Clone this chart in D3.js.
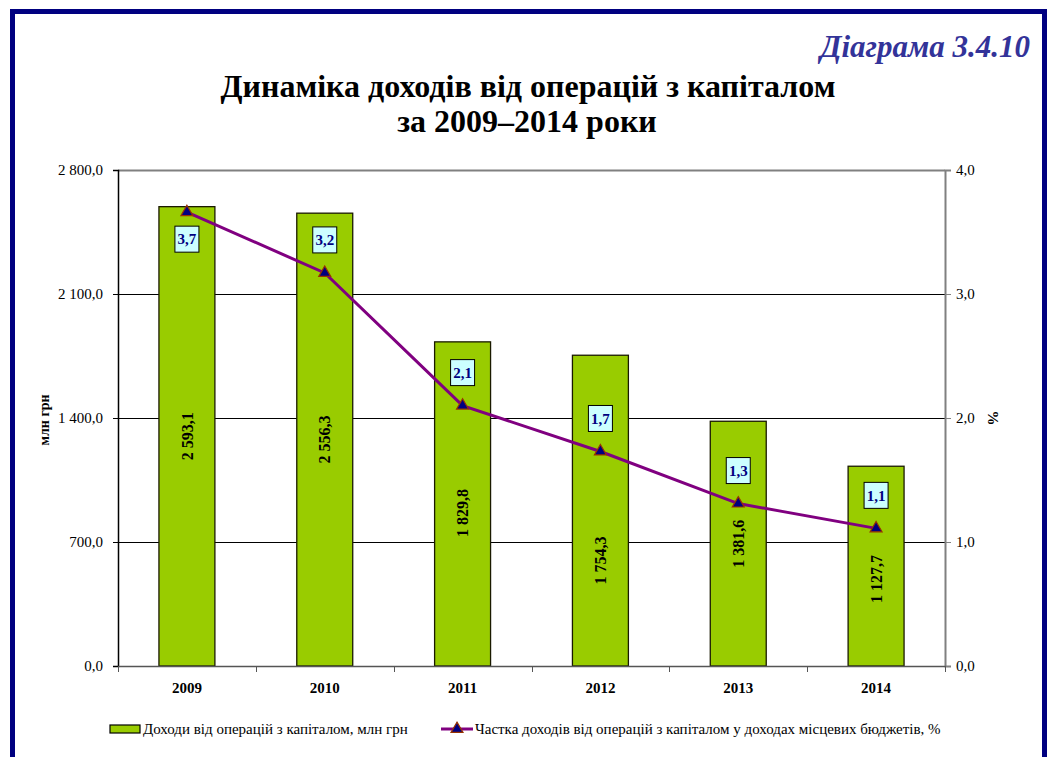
<!DOCTYPE html>
<html>
<head>
<meta charset="utf-8">
<script src="https://cdn.jsdelivr.net/npm/d3@7"></script>
<style>
  body { margin: 0; background: #fff; }
</style>
</head>
<body>
<script>
// data
var years = ["2009", "2010", "2011", "2012", "2013", "2014"];
var income = [2593.1, 2556.3, 1829.8, 1754.3, 1381.6, 1127.7];   // млн грн
var share = [3.66, 3.17, 2.10, 1.73, 1.31, 1.11];                // %
var leftTicks = [0, 700, 1400, 2100, 2800];
var rightTicks = [0, 1, 2, 3, 4];

var seriesNames = ["Доходи від операцій з капіталом, млн грн",
                   "Частка доходів від операцій з капіталом у доходах місцевих бюджетів, %"];

// label placement tweaks (px)
var valueLabelNudge = [0, 0, 9, 50, 0, 13];
var shareLabelSide = [1, -1, -1, -1, -1, -1];   // 1 = below marker, -1 = above

var width = 1050, height = 757;
var plot = {left: 118, right: 945, top: 170, bottom: 666};
var serifFont = "'Liberation Serif', 'Times New Roman', serif";

var ua = d3.formatLocale({decimal: ",", thousands: " ", grouping: [3], currency: ["", ""]});
var fmt1 = ua.format(",.1f");

var svg = d3.select("body").append("svg")
    .attr("width", width)
    .attr("height", height);

svg.append("rect").attr("width", width).attr("height", height).attr("fill", "#fff");

// frame
svg.append("rect")
    .attr("x", 12.5).attr("y", 11.5)
    .attr("width", 1032).attr("height", 800)
    .attr("fill", "none")
    .attr("stroke", "#000080")
    .attr("stroke-width", 5);

// titles
svg.append("text")
    .attr("x", 1030).attr("y", 57)
    .attr("text-anchor", "end")
    .attr("font-size", 31)
    .attr("font-weight", "bold")
    .attr("font-style", "italic")
    .attr("fill", "#333399")
    .text("Діаграма 3.4.10");

svg.append("text")
    .attr("x", 528).attr("y", 97)
    .attr("text-anchor", "middle")
    .attr("font-size", 32)
    .attr("font-weight", "bold")
    .text("Динаміка доходів від операцій з капіталом");

svg.append("text")
    .attr("x", 527).attr("y", 132)
    .attr("text-anchor", "middle")
    .attr("font-size", 32)
    .attr("font-weight", "bold")
    .text("за 2009–2014 роки");

// scales
var x = d3.scaleBand()
    .domain(years)
    .range([plot.left, plot.right])
    .paddingInner(0.594)
    .paddingOuter(0.297);
var xc = d3.scaleBand().domain(years).range([plot.left, plot.right]);
var yL = d3.scaleLinear().domain([0, 2800]).range([plot.bottom, plot.top]);
var yR = d3.scaleLinear().domain([0, 4]).range([plot.bottom, plot.top]);

// grid
svg.append("g")
  .selectAll("line")
  .data(leftTicks.slice(1, -1))
  .enter().append("line")
    .attr("x1", plot.left).attr("x2", plot.right)
    .attr("y1", function(d) { return Math.round(yL(d)) + 0.5; })
    .attr("y2", function(d) { return Math.round(yL(d)) + 0.5; })
    .attr("stroke", "#000")
    .attr("stroke-width", 1);

svg.append("line")
    .attr("x1", plot.left).attr("x2", plot.right)
    .attr("y1", plot.top + 0.5).attr("y2", plot.top + 0.5)
    .attr("stroke", "#808080").attr("stroke-width", 2);

// bars
svg.append("g")
  .selectAll("rect")
  .data(income)
  .enter().append("rect")
    .attr("x", function(d, i) { return x(years[i]); })
    .attr("width", x.bandwidth())
    .attr("y", function(d) { return yL(d); })
    .attr("height", function(d) { return yL(0) - yL(d); })
    .attr("fill", "#99CC00")
    .attr("stroke", "#1a1a00")
    .attr("stroke-width", 1.3);

// bar labels
svg.append("g")
  .selectAll("text")
  .data(income)
  .enter().append("text")
    .attr("transform", function(d, i) {
      var cx = x(years[i]) + x.bandwidth() / 2;
      var cy = (yL(d) + yL(0)) / 2 + valueLabelNudge[i];
      return "translate(" + cx + "," + cy + ") rotate(-90)";
    })
    .attr("text-anchor", "middle")
    .attr("dy", "0.35em")
    .attr("font-size", 16)
    .attr("font-weight", "bold")
    .text(function(d) { return fmt1(d); });

// axes
var axL = svg.append("g")
    .attr("transform", "translate(" + plot.left + ",0)")
    .call(d3.axisLeft(yL).tickValues(leftTicks).tickSize(5).tickFormat(fmt1));
axL.select(".domain").attr("stroke", "#000").attr("stroke-width", 1.5);
axL.selectAll(".tick line").attr("stroke", "#000");
axL.selectAll("text").attr("font-size", 15).attr("fill", "#000").attr("x", -15);

var axR = svg.append("g")
    .attr("transform", "translate(" + plot.right + ",0)")
    .call(d3.axisRight(yR).tickValues(rightTicks).tickSize(6).tickFormat(fmt1));
axR.select(".domain").attr("stroke", "#808080").attr("stroke-width", 2);
axR.selectAll(".tick line").attr("stroke", "#808080");
axR.selectAll("text").attr("font-size", 15).attr("fill", "#000").attr("x", 11);

var axB = svg.append("g")
    .attr("transform", "translate(0," + plot.bottom + ")")
    .call(d3.axisBottom(xc).tickSize(0).tickPadding(16));
axB.select(".domain").attr("stroke", "#555").attr("stroke-width", 1.5);
axB.selectAll("text").attr("font-size", 15).attr("font-weight", "bold").attr("fill", "#000");
// ticks between categories
axB.append("g")
  .selectAll("line")
  .data(years.concat(["end"]))
  .enter().append("line")
    .attr("x1", function(d, i) { return Math.round(plot.left + xc.step() * i) + 0.5; })
    .attr("x2", function(d, i) { return Math.round(plot.left + xc.step() * i) + 0.5; })
    .attr("y1", 0).attr("y2", 6)
    .attr("stroke", "#555");

// axis titles
svg.append("text")
    .attr("transform", "translate(49,420) rotate(-90)")
    .attr("text-anchor", "middle")
    .attr("font-size", 14)
    .attr("font-weight", "bold")
    .text("млн грн");

svg.append("text")
    .attr("transform", "translate(988,418) rotate(90)")
    .attr("text-anchor", "middle")
    .attr("font-size", 15)
    .attr("font-weight", "bold")
    .text("%");

// share line
var line = d3.line()
    .x(function(d, i) { return xc(years[i]) + xc.bandwidth() / 2; })
    .y(function(d) { return yR(d); });

svg.append("path")
    .datum(share)
    .attr("d", line)
    .attr("fill", "none")
    .attr("stroke", "#800080")
    .attr("stroke-width", 3);

var tri = d3.symbol().type(d3.symbolTriangle).size(62);
svg.append("g")
  .selectAll("path")
  .data(share)
  .enter().append("path")
    .attr("d", tri)
    .attr("transform", function(d, i) {
      return "translate(" + (xc(years[i]) + xc.bandwidth() / 2) + "," + yR(d) + ")";
    })
    .attr("fill", "#000080")
    .attr("stroke", "#993300")
    .attr("stroke-width", 1.2);

// share labels
var lab = svg.append("g")
  .selectAll("g")
  .data(share)
  .enter().append("g")
    .attr("transform", function(d, i) {
      var cx = xc(years[i]) + xc.bandwidth() / 2;
      var cy = yR(d) + (shareLabelSide[i] > 0 ? 27 : -33);
      return "translate(" + cx + "," + cy + ")";
    });
lab.append("rect")
    .attr("x", -12).attr("y", -13)
    .attr("width", 24).attr("height", 26)
    .attr("fill", "#CCFFFF")
    .attr("stroke", "#000")
    .attr("stroke-width", 1);
lab.append("text")
    .attr("text-anchor", "middle")
    .attr("dy", "0.35em")
    .attr("font-size", 15)
    .attr("font-weight", "bold")
    .attr("fill", "#000080")
    .text(function(d) { return fmt1(d); });

// legend
var leg = svg.append("g").attr("transform", "translate(0,729)");
leg.append("rect")
    .attr("x", 110).attr("y", -4)
    .attr("width", 30).attr("height", 8)
    .attr("fill", "#99CC00")
    .attr("stroke", "#000")
    .attr("stroke-width", 1.2);
leg.append("text")
    .attr("x", 143).attr("dy", "0.35em")
    .attr("font-size", 15)
    .text(seriesNames[0]);
leg.append("line")
    .attr("x1", 441).attr("x2", 473)
    .attr("stroke", "#800080").attr("stroke-width", 3);
leg.append("path")
    .attr("d", tri)
    .attr("transform", "translate(457,0)")
    .attr("fill", "#000080")
    .attr("stroke", "#993300")
    .attr("stroke-width", 1.2);
leg.append("text")
    .attr("x", 475).attr("dy", "0.35em")
    .attr("font-size", 15)
    .text(seriesNames[1]);

// serif everywhere (axis groups set their own font)
svg.selectAll("text").style("font-family", serifFont);
</script>
</body>
</html>
